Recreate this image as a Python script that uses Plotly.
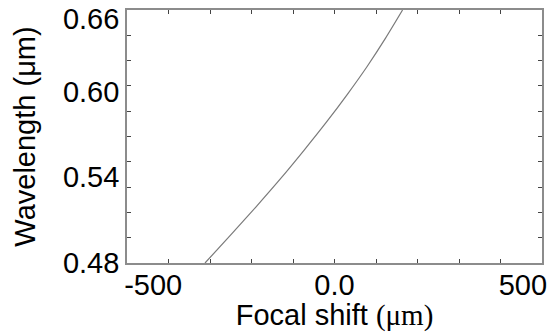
import plotly.graph_objects as go

# Data
wavelength_um = [0.48, 0.50, 0.52, 0.54, 0.56, 0.58, 0.60, 0.62, 0.64, 0.66]
focal_shift_um = [-312, -250, -189, -130, -74, -20, 31, 79, 123, 164]

# Tick labels (placed where they appear in the reference)
x_tick_vals = [-437, 0, 454]
x_tick_text = ["-500", "0.0", "500"]
y_tick_vals = [0.48, 0.5415, 0.6017, 0.6536]
y_tick_text = ["0.48", "0.54", "0.60", "0.66"]
x_minor = [-500, -400, -300, -200, -100, 0, 100, 200, 300, 400, 500]
y_minor = [0.48 + 0.018 * i for i in range(11)]

fig = go.Figure()
fig.add_trace(go.Scatter(
    x=focal_shift_um, y=wavelength_um, mode="lines",
    line=dict(color="#7a7a7a", width=1.2, shape="spline", smoothing=0.8),
    showlegend=False, hoverinfo="skip",
))

font_main = "Liberation Sans, Arial, sans-serif"
fig.update_layout(
    width=554, height=332,
    margin=dict(l=127, r=12, t=10, b=69),
    paper_bgcolor="white", plot_bgcolor="white",
    font=dict(family=font_main, size=29, color="black"),
    xaxis=dict(
        range=[-500, 500], showgrid=False, zeroline=False,
        showline=True, linecolor="#8c8c8c", linewidth=1.6, mirror="ticks",
        tickmode="array", tickvals=x_tick_vals, ticktext=x_tick_text,
        ticks="inside", ticklen=0, tickfont=dict(size=29),
        ticklabelstandoff=-5,
        minor=dict(tickmode="array", tickvals=x_minor, ticks="inside",
                   ticklen=4, tickcolor="#444", tickwidth=1),
        title=dict(text='Focal shift <span style="font-family:\'Liberation Serif\', serif">(μm)</span>',
                   font=dict(size=29), standoff=0),
        automargin=False,
    ),
    yaxis=dict(
        range=[0.48, 0.66], showgrid=False, zeroline=False,
        showline=True, linecolor="#8c8c8c", linewidth=1.6, mirror="ticks",
        tickmode="array", tickvals=y_tick_vals, ticktext=y_tick_text,
        ticks="inside", ticklen=0, tickfont=dict(size=29),
        minor=dict(tickmode="array", tickvals=y_minor, ticks="inside",
                   ticklen=4, tickcolor="#444", tickwidth=1),
        title=dict(text="Wavelength (μm)", font=dict(size=29), standoff=19),
        automargin=False,
    ),
)

fig.write_html("out.html", config={"displayModeBar": False},
               post_script="document.body.style.margin='0';")
